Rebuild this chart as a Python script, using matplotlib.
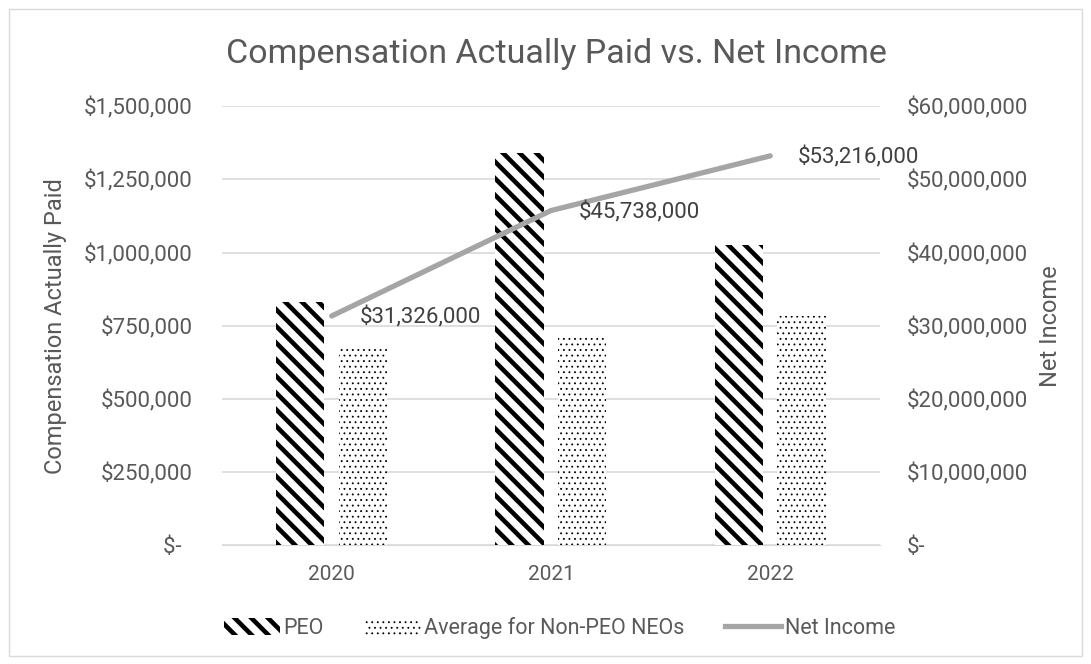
import numpy as np
import matplotlib.pyplot as plt
from matplotlib.patches import Rectangle
from matplotlib.ticker import FuncFormatter

# Données du graphique
years = ['2020', '2021', '2022']
peo = [832000, 1341000, 1025000]
non_peo = [674000, 712000, 784000]
net_income = [31326000, 45738000, 53216000]

plt.rcParams['font.family'] = ['Roboto', 'DejaVu Sans']
txt = '#595959'
stripe_lw = 3.3
dot_lw = 0.6
stripe = '\\\\'
dots = '...'


def set_hlw(patch, lw):
    # épaisseur des hachures, patch par patch
    if hasattr(patch, 'set_hatch_linewidth'):
        patch.set_hatch_linewidth(lw)


fig = plt.figure(figsize=(10.91, 6.64), dpi=100)
fig.patches.append(Rectangle((0.008, 0.012), 0.984, 0.975, transform=fig.transFigure,
                             fill=False, edgecolor='#d9d9d9', linewidth=1))

ax = fig.add_axes([0.2035, 0.179, 0.603, 0.661])
ax2 = ax.twinx()

x = np.arange(len(years))
w = 0.22
plt.rcParams['hatch.linewidth'] = stripe_lw
bars1 = ax.bar(x - 0.143, peo, w, color='white', edgecolor='black', hatch=stripe,
               linewidth=0, zorder=3)
plt.rcParams['hatch.linewidth'] = dot_lw
bars2 = ax.bar(x + 0.143, non_peo, w, color='white', edgecolor='black', hatch=dots,
               linewidth=0, zorder=3)
for b in bars1:
    set_hlw(b, stripe_lw)
for b in bars2:
    set_hlw(b, dot_lw)

ax2.plot(x, net_income, color='#a5a5a5', linewidth=3.8, solid_capstyle='round')
for xi, v in zip(x, net_income):
    ax2.annotate('${:,.0f}'.format(v), (xi, v), xytext=(20, -1), textcoords='offset points',
                 fontsize=16, color='#404040', ha='left', va='center')

ax.set_xlim(-0.5, 2.5)
ax.set_ylim(0, 1500000)
ax2.set_ylim(0, 60000000)
ax.set_yticks(np.arange(0, 1500001, 250000))
ax2.set_yticks(np.arange(0, 60000001, 10000000))


def money(v, pos):
    if v == 0:
        return '$-  '
    return '${:,.0f}'.format(v)


ax.yaxis.set_major_formatter(FuncFormatter(money))
ax2.yaxis.set_major_formatter(FuncFormatter(lambda v, p: '$-' if v == 0 else '${:,.0f}'.format(v)))
ax.set_xticks(x)
ax.set_xticklabels(years)

ax.grid(axis='y', color='#d9d9d9', linewidth=1.2, zorder=0)
for a in (ax, ax2):
    for s in a.spines.values():
        s.set_visible(False)
    a.tick_params(length=0, labelsize=16, colors=txt)
ax.spines['bottom'].set_visible(True)
ax.spines['bottom'].set_color('#d9d9d9')
ax.tick_params(axis='x', labelsize=15, pad=14)
ax.tick_params(axis='y', pad=21)
ax2.tick_params(axis='y', pad=19.5)

ax.set_ylabel('Compensation Actually Paid', fontsize=17, color=txt, labelpad=12)
ax2.set_ylabel('Net Income', fontsize=17, color=txt, labelpad=8)
fig.text(0.51, 0.918, 'Compensation Actually Paid vs. Net Income', ha='center', va='center',
         fontsize=24.5, color=txt)

handles = [Rectangle((0, 0), 1, 1, facecolor='white', edgecolor='black', hatch=stripe, linewidth=0),
           Rectangle((0, 0), 1, 1, facecolor='white', edgecolor='black', hatch=dots, linewidth=0),
           plt.Line2D([0], [0], color='#a5a5a5', linewidth=3.8)]
leg = fig.legend(handles, ['PEO', 'Average for Non-PEO NEOs', 'Net Income'], loc='center',
                 bbox_to_anchor=(0.513, 0.054), ncol=3, frameon=False, fontsize=15.5,
                 labelcolor=txt, handlelength=2.6, handleheight=0.8, handletextpad=0.15,
                 columnspacing=1.9)
lp = leg.get_patches()
set_hlw(lp[0], stripe_lw)
set_hlw(lp[1], dot_lw)

fig.savefig('out.png', dpi=100)
